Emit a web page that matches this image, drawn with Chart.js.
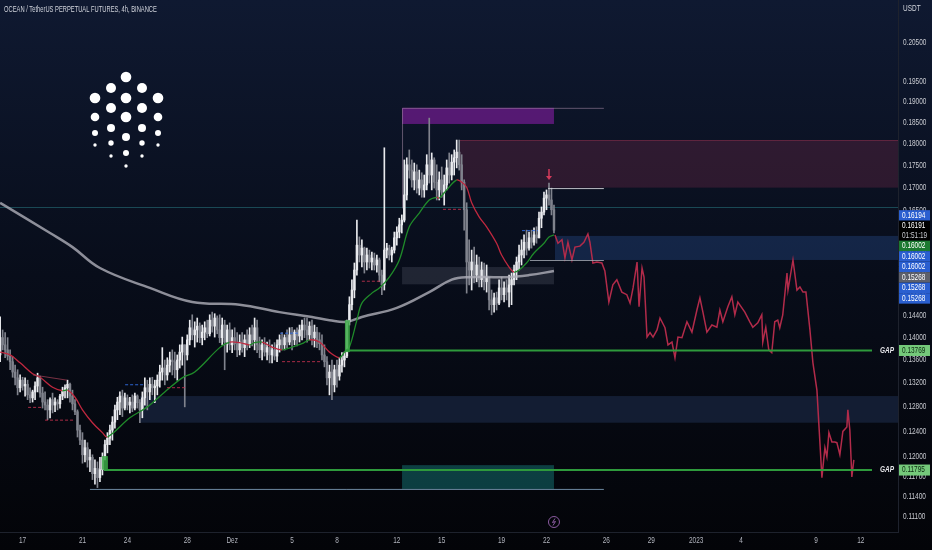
<!DOCTYPE html>
<html>
<head>
<meta charset="utf-8">
<script src="https://cdn.jsdelivr.net/npm/chart.js@4.4.0/dist/chart.umd.min.js"></script>
<style>
  html, body { margin: 0; padding: 0; background: #04060b; }
  #wrap { width: 932px; height: 550px; }
</style>
</head>
<body>
<div id="wrap"><canvas id="chart" width="932" height="550"></canvas></div>
<script>
// OCEAN/USDT perp, 4h candles. x = bar index counted from 17 Nov 00:00
const startBar = -9;
const firstOpen = 0.1369;

const highs = [
  .1438,.1414,.1409,.1400,.1378,.1366,.1351,.1343,.1334,.1330,
  .1329,.1325,.1312,.1308,.1322,.1337,.1332,.1313,.1305,.1292,
  .1295,.1303,.1295,.1292,.1301,.1313,.1317,.1325,.1320,.1308,
  .1292,.1275,.1250,.1238,.1226,.1222,.1211,.1203,.1195,.1192,
  .1199,.1206,.1226,.1238,.1250,.1264,.1283,.1296,.1305,.1308,
  .1303,.1300,.1296,.1300,.1303,.1300,.1292,.1305,.1329,.1325,
  .1329,.1330,.1325,.1334,.1351,.1382,.1360,.1364,.1374,.1378,
  .1374,.1369,.1387,.1401,.1387,.1405,.1432,.1442,.1429,.1436,
  .1427,.1423,.1429,.1432,.1442,.1447,.1444,.1440,.1442,.1436,
  .1432,.1423,.1427,.1414,.1418,.1409,.1405,.1409,.1405,.1414,
  .1418,.1423,.1436,.1432,.1401,.1396,.1400,.1392,.1396,.1387,
  .1391,.1396,.1405,.1409,.1405,.1414,.1418,.1419,.1414,.1418,
  .1423,.1432,.1436,.1436,.1429,.1432,.1423,.1419,.1409,.1405,
  .1387,.1366,.1351,.1360,.1351,.1360,.1364,.1373,.1374,.1432,
  .1476,.1509,.1542,.1630,.1595,.1589,.1574,.1572,.1568,.1564,
  .1562,.1558,.1552,.1528,.1790,.1582,.1578,.1574,.1605,.1616,
  .1634,.1641,.1762,.1767,.1785,.1762,.1755,.1751,.1739,.1733,
  .1728,.1774,.1860,.1778,.1767,.1751,.1735,.1746,.1728,.1762,
  .1778,.1774,.1785,.1808,.1808,.1774,.1717,.1667,.1589,.1568,
  .1574,.1558,.1554,.1544,.1542,.1538,.1499,.1489,.1483,.1485,
  .1509,.1514,.1505,.1509,.1518,.1522,.1538,.1554,.1578,.1589,
  .1599,.1609,.1605,.1609,.1614,.1616,.1647,.1658,.1690,.1695,
  .1710,.1699,.1662
];
const lows = [
  .1357,.1378,.1364,.1360,.1343,.1330,.1317,.1300,.1305,.1308,
  .1298,.1292,.1287,.1288,.1292,.1305,.1296,.1278,.1275,.1259,
  .1262,.1270,.1272,.1275,.1278,.1292,.1295,.1295,.1288,.1275,
  .1267,.1231,.1219,.1190,.1192,.1184,.1177,.1165,.1158,.1153,
  .1162,.1172,.1195,.1206,.1219,.1226,.1245,.1259,.1267,.1264,
  .1275,.1275,.1270,.1272,.1275,.1278,.1254,.1262,.1283,.1275,
  .1292,.1300,.1287,.1300,.1313,.1325,.1317,.1325,.1339,.1334,
  .1329,.1325,.1346,.1351,.1280,.1360,.1387,.1396,.1383,.1392,
  .1391,.1387,.1396,.1400,.1403,.1410,.1401,.1407,.1391,.1387,
  .1343,.1374,.1378,.1373,.1378,.1366,.1369,.1374,.1366,.1378,
  .1382,.1385,.1378,.1373,.1364,.1360,.1367,.1360,.1355,.1355,
  .1360,.1357,.1374,.1378,.1378,.1382,.1387,.1378,.1387,.1385,
  .1392,.1396,.1400,.1392,.1396,.1387,.1383,.1382,.1378,.1360,
  .1348,.1317,.1300,.1292,.1305,.1313,.1325,.1339,.1348,.1364,
  .1423,.1451,.1474,.1518,.1544,.1534,.1522,.1528,.1532,.1528,
  .1528,.1524,.1505,.1480,.1489,.1552,.1548,.1544,.1562,.1578,
  .1593,.1603,.1626,.1673,.1721,.1701,.1695,.1688,.1684,.1679,
  .1679,.1695,.1710,.1695,.1699,.1673,.1673,.1679,.1662,.1695,
  .1710,.1717,.1728,.1744,.1739,.1695,.1609,.1483,.1499,.1489,
  .1503,.1505,.1495,.1495,.1489,.1485,.1451,.1442,.1447,.1451,
  .1461,.1470,.1466,.1470,.1457,.1461,.1499,.1509,.1528,.1538,
  .1552,.1558,.1568,.1572,.1578,.1582,.1599,.1614,.1641,.1652,
  .1662,.1641,.1603
];
const closes = [
  .1400,.1387,.1378,.1367,.1357,.1339,.1329,.1312,.1325,.1315,
  .1318,.1300,.1295,.1305,.1315,.1329,.1303,.1288,.1283,.1275,
  .1292,.1283,.1288,.1285,.1298,.1308,.1312,.1318,.1298,.1285,
  .1272,.1242,.1226,.1203,.1214,.1195,.1199,.1174,.1182,.1168,
  .1180,.1199,.1219,.1229,.1242,.1255,.1275,.1288,.1298,.1278,
  .1295,.1283,.1288,.1278,.1298,.1287,.1275,.1295,.1312,.1305,
  .1318,.1312,.1315,.1325,.1339,.1346,.1334,.1351,.1360,.1357,
  .1343,.1360,.1374,.1387,.1369,.1396,.1418,.1405,.1414,.1421,
  .1400,.1410,.1418,.1407,.1432,.1421,.1436,.1414,.1400,.1423,
  .1392,.1414,.1387,.1400,.1389,.1378,.1392,.1382,.1396,.1387,
  .1405,.1396,.1418,.1387,.1378,.1387,.1374,.1382,.1369,.1378,
  .1367,.1387,.1396,.1387,.1400,.1392,.1405,.1396,.1410,.1403,
  .1414,.1423,.1414,.1405,.1421,.1400,.1410,.1396,.1389,.1369,
  .1357,.1329,.1339,.1317,.1343,.1332,.1351,.1360,.1367,.1429,
  .1461,.1489,.1528,.1578,.1558,.1572,.1544,.1558,.1544,.1552,
  .1538,.1548,.1518,.1499,.1568,.1572,.1558,.1568,.1593,.1605,
  .1620,.1630,.1684,.1751,.1739,.1717,.1735,.1699,.1717,.1695,
  .1706,.1751,.1728,.1762,.1712,.1695,.1717,.1690,.1706,.1744,
  .1728,.1757,.1767,.1780,.1751,.1712,.1652,.1544,.1528,.1544,
  .1518,.1538,.1509,.1528,.1505,.1513,.1470,.1461,.1474,.1464,
  .1493,.1480,.1493,.1485,.1499,.1509,.1528,.1544,.1558,.1568,
  .1584,.1572,.1593,.1584,.1599,.1593,.1634,.1647,.1677,.1684,
  .1673,.1652,.1609
];

// fast MA (green when rising, red when falling)
const maBars = [-9,-5,-1,4,7,12,16,18,21,24,28,32,34,43,50,57,64,69,79,83,87,91,93,96,100,104,108,112,115,119,123,127,129,131,134,136,140,143,147,151,155,159,163,166,167,170,174,176,178,180,183,186,190,192,195,197,199,202,205,209,211,213];
const maPrices = [.1374,.1369,.1355,.1336,.1330,.1313,.1307,.1308,.1296,.1275,.1254,.1238,.1231,.1262,.1280,.1305,.1329,.1339,.1382,.1392,.1391,.1387,.1391,.1392,.1383,.1378,.1383,.1389,.1396,.1392,.1374,.1364,.1374,.1383,.1432,.1464,.1483,.1493,.1514,.1548,.1616,.1645,.1673,.1679,.1677,.1695,.1717,.1712,.1701,.1667,.1637,.1616,.1582,.1558,.1534,.1524,.1528,.1542,.1562,.1582,.1595,.1599];

// slow MA (grey)
const slowBars = [-9,11,20,31,51,68,87,103,116,123,130,136,150,163,172,178,194,203,213];
const slowPrices = [.1667,.1603,.1574,.1532,.1493,.1466,.1461,.1447,.1438,.1432,.1429,.1438,.1455,.1485,.1509,.1514,.1514,.1518,.1526];

// drawn projection path
const projBars = [213.4,214.6,216.2,217.4,218.6,220.2,221.4,223.4,225.0,226.6,227.4,228.6,230.2,232.2,233.4,235.0,
  236.6,238.2,240.2,242.2,243.5,244.7,246.3,247.1,248.3,249.1,250.3,251.5,252.7,254.3,255.5,257.5,258.7,260.3,261.5,
  262.7,264.3,266.3,268.3,270.3,271.5,272.7,274.3,276.3,278.3,279.5,280.7,282.7,284.3,285.5,286.7,289.5,291.5,292.7,
  294.7,296.3,296.7,297.9,299.1,300.3,301.5,302.7,303.5,304.7,306.4,306.8,308.8,310.4,311.6,312.8,314.0,315.6,316.8,
  318.4,320.4,321.6,322.4,323.2,324.4,325.6,326.4,327.6,328.8,330.4,330.8,331.6,332.4,333.2];
const projPrices = [.1599,.1582,.1589,.1552,.1584,.1548,.1574,.1576,.1584,.1601,.1584,.1542,.1544,.1542,.1526,.1466,
  .1499,.1509,.1485,.1480,.1464,.1493,.1544,.1457,.1532,.1514,.1401,.1409,.1401,.1414,.1436,.1418,.1387,.1392,.1364,
  .1401,.1400,.1429,.1410,.1451,.1474,.1447,.1410,.1423,.1419,.1451,.1429,.1457,.1476,.1442,.1466,.1447,.1429,.1419,
  .1427,.1442,.1392,.1419,.1378,.1373,.1429,.1432,.1418,.1442,.1522,.1489,.1548,.1489,.1495,.1485,.1485,.1414,.1355,
  .1308,.1168,.1214,.1200,.1238,.1223,.1223,.1222,.1203,.1240,.1247,.1275,.1242,.1169,.1195];

// zones: [fromBar, toBar (null = right edge)] and [top, bottom] prices
const zoneBars   = [[152.1, 213.0], [175.3, null], [213.4, null], [152.1, 213.0], [47.1, null], [152.1, 213.0]];
const zonePrices = [[.1885, .1846], [.1808, .1700], [.1597, .1548], [.1534, .1500], [.1298, .1254], [.1187, .1151]];

// gap levels and their filled candles
const gapLevels = [0.13769, 0.11795];
const gapFromBar = [129.2, 32.6];
const gapFillBars = [[129.2, 131.2], [31.8, 34.2]];
const gapFillPrices = [[.1432, .1374], [.1201, .1180]];

// pivot markers (dashed)
const pivotBars = [[2.2, 8.2], [9, 21], [41.1, 49.1], [57.9, 65.1], [103.2, 110.4], [104, 120], [136, 143.3], [168.5, 176.5], [200.2, 206.6]];
const pivotPrices = [.1280, .1259, .1318, .1313, .1409, .1358, .1507, .1654, .1609];
const pivotKinds = ['low', 'low', 'high', 'low', 'high', 'low', 'low', 'low', 'high'];

const lastPrice = 0.16194;
const tagPrices = ['0.16194', '0.16191', '0.16002', '0.16002', '0.16002', '0.15268', '0.15268', '0.15268'];
const countdown = '01:51:19';

const dayLabels = ['17', '21', '24', '28', 'Dez', '5', '8', '12', '15', '19', '22', '26', '29', '2023', '4', '9', '12'];
const dayOffsets = [0, 4, 7, 11, 14, 18, 21, 25, 28, 32, 35, 39, 42, 45, 48, 53, 56];
const priceTicks = [0.205, 0.195, 0.19, 0.185, 0.18, 0.175, 0.17, 0.165, 0.16, 0.156, 0.152, 0.148,
  0.144, 0.14, 0.136, 0.132, 0.128, 0.124, 0.12, 0.117, 0.114, 0.111];

const FONT = "8.5px 'Liberation Sans', 'DejaVu Sans', sans-serif";

// candles as two floating bar sets (wick + body)
const wickData = [], bodyData = [], candleColors = [];
let prev = firstOpen;
closes.forEach((c, i) => {
  const x = startBar + i;
  const hi = Math.max(highs[i], prev, c);
  const lo = Math.min(lows[i], prev, c);
  wickData.push({ x: x, y: [lo, hi] });
  bodyData.push({ x: x, y: [prev, c] });
  candleColors.push(c >= prev ? '#e9eaee' : '#80838d');
  prev = c;
});

const toXY = (xs, ys) => xs.map((x, i) => ({ x: x, y: ys[i] }));

// no extra padding from tick labels, plot area must fill the canvas
const noPad = s => { s.paddingTop = 0; s.paddingBottom = 0; s.paddingLeft = 0; s.paddingRight = 0; };

// TradingView uses a narrow face; squeeze the text horizontally
function narrowText(ctx, text, x, y, align, squeeze) {
  ctx.save();
  ctx.translate(x, y);
  ctx.scale(squeeze || 0.76, 1);
  ctx.textAlign = align;
  ctx.fillText(text, 0, 0);
  ctx.restore();
}

const overlayPlugin = {
  id: 'overlay',
  beforeDraw(chart) {
    const { ctx, width, height } = chart;
    const g = ctx.createLinearGradient(0, 0, 0, height);
    g.addColorStop(0, '#0f1931');
    g.addColorStop(0.5, '#080d1a');
    g.addColorStop(1, '#030408');
    ctx.save();
    ctx.fillStyle = g;
    ctx.fillRect(0, 0, width, height);
    ctx.restore();
  },
  beforeDatasetsDraw(chart) {
    const { ctx, chartArea: a, scales: { x, y } } = chart;
    ctx.save();
    ctx.beginPath();
    ctx.rect(a.left, a.top, a.width, a.height);
    ctx.clip();

    // zones
    const fills = ['rgba(96,26,125,0.88)', 'rgba(120,45,75,0.32)', 'rgba(40,75,140,0.38)',
      'rgba(120,125,140,0.22)', 'rgba(45,70,115,0.35)', 'rgba(20,110,110,0.55)'];
    zoneBars.forEach((b, i) => {
      const x0 = x.getPixelForValue(b[0]);
      const x1 = b[1] === null ? a.right : x.getPixelForValue(b[1]);
      const y0 = y.getPixelForValue(zonePrices[i][0]);
      const y1 = y.getPixelForValue(zonePrices[i][1]);
      ctx.fillStyle = fills[i];
      ctx.fillRect(x0, y0, x1 - x0, y1 - y0);
    });
    // thin border on top of the red supply zone
    ctx.strokeStyle = 'rgba(150,50,80,0.5)';
    ctx.lineWidth = 1;
    ctx.beginPath();
    ctx.moveTo(x.getPixelForValue(zoneBars[1][0]), y.getPixelForValue(zonePrices[1][0]) + 0.5);
    ctx.lineTo(a.right, y.getPixelForValue(zonePrices[1][0]) + 0.5);
    ctx.stroke();

    // faint horizontal line across the chart
    ctx.strokeStyle = 'rgba(40,120,130,0.55)';
    ctx.beginPath();
    const yl = Math.round(y.getPixelForValue(0.1658)) + 0.5;
    ctx.moveTo(a.left, yl);
    ctx.lineTo(a.right, yl);
    ctx.stroke();
    ctx.restore();
  },
  afterDatasetsDraw(chart) {
    const { ctx, chartArea: a, scales: { x, y } } = chart;
    const X = v => x.getPixelForValue(v), Y = v => y.getPixelForValue(v);
    ctx.save();

    // purple box outline (top + left side)
    ctx.strokeStyle = 'rgba(170,140,170,0.55)';
    ctx.lineWidth = 1;
    ctx.beginPath();
    ctx.moveTo(X(233.0), Y(.1885) + 0.5);
    ctx.lineTo(X(152.1) + 0.5, Y(.1885) + 0.5);
    ctx.lineTo(X(152.1) + 0.5, Y(.1655));
    ctx.stroke();

    // white / grey level lines
    ctx.strokeStyle = 'rgba(220,220,225,0.85)';
    ctx.beginPath();
    ctx.moveTo(X(210.6), Y(.1699) + 0.5);
    ctx.lineTo(X(233.0), Y(.1699) + 0.5);
    ctx.stroke();
    ctx.strokeStyle = 'rgba(170,175,185,0.8)';
    ctx.beginPath();
    ctx.moveTo(X(203.4), Y(.1548) + 0.5);
    ctx.lineTo(X(233.0), Y(.1548) + 0.5);
    ctx.stroke();
    ctx.strokeStyle = 'rgba(120,150,175,0.9)';
    ctx.beginPath();
    ctx.moveTo(X(27.0), Y(.1151) + 0.5);
    ctx.lineTo(X(233.0), Y(.1151) + 0.5);
    ctx.stroke();

    // thin old trendline
    ctx.strokeStyle = 'rgba(150,60,80,0.8)';
    ctx.beginPath();
    ctx.moveTo(X(4.2), Y(.1334));
    ctx.lineTo(X(17.8), Y(.1325));
    ctx.stroke();

    // pivot dashes
    ctx.setLineDash([3, 2]);
    pivotBars.forEach((b, i) => {
      ctx.strokeStyle = pivotKinds[i] === 'low' ? 'rgba(200,50,80,0.85)' : 'rgba(50,110,230,0.9)';
      ctx.beginPath();
      ctx.moveTo(X(b[0]), Y(pivotPrices[i]) + 0.5);
      ctx.lineTo(X(b[1]), Y(pivotPrices[i]) + 0.5);
      ctx.stroke();
    });
    ctx.setLineDash([]);

    // gap fills + gap lines
    gapFillBars.forEach((b, i) => {
      ctx.fillStyle = 'rgba(60,170,70,0.85)';
      const y0 = Y(gapFillPrices[i][0]), y1 = Y(gapFillPrices[i][1]);
      ctx.fillRect(X(b[0]), y0, X(b[1]) - X(b[0]), y1 - y0);
    });
    gapLevels.forEach((lv, i) => {
      const yy = Y(lv);
      ctx.strokeStyle = '#2e9a3c';
      ctx.lineWidth = 2;
      ctx.beginPath();
      ctx.moveTo(X(gapFromBar[i]), yy);
      ctx.lineTo(a.right - 26, yy);
      ctx.stroke();
      ctx.fillStyle = '#e8e8ec';
      ctx.font = "italic bold 8.5px 'Liberation Sans', sans-serif";
      ctx.textBaseline = 'middle';
      narrowText(ctx, 'GAP', a.right - 4, yy, 'right');
    });

    // red arrow above the last high
    const ax = X(211), ay = Y(highs[211 - startBar]);
    ctx.strokeStyle = '#d23a5a';
    ctx.fillStyle = '#d23a5a';
    ctx.lineWidth = 1.5;
    ctx.beginPath();
    ctx.moveTo(ax, ay - 14);
    ctx.lineTo(ax, ay - 6);
    ctx.stroke();
    ctx.beginPath();
    ctx.moveTo(ax - 3, ay - 7);
    ctx.lineTo(ax + 3, ay - 7);
    ctx.lineTo(ax, ay - 3);
    ctx.closePath();
    ctx.fill();
    ctx.restore();
  },
  afterDraw(chart) {
    const { ctx, chartArea: a, scales: { x, y } } = chart;
    ctx.save();
    ctx.font = FONT;
    ctx.textBaseline = 'middle';

    // title + unit
    ctx.fillStyle = '#d1d4dc';
    narrowText(ctx, 'OCEAN / TetherUS PERPETUAL FUTURES, 4h, BINANCE', 4, 10, 'left', 0.68);
    narrowText(ctx, 'USDT', a.right + 5, 9, 'left');

    // axis tick labels (taken from the scales' own ticks)
    ctx.fillStyle = '#c8cad0';
    y.ticks.forEach(t => narrowText(ctx, t.value.toFixed(5), a.right + 5, y.getPixelForValue(t.value), 'left'));
    ctx.fillStyle = '#b2b5be';
    x.ticks.forEach((t, i) => narrowText(ctx, dayLabels[i], x.getPixelForValue(t.value), a.bottom + 9, 'center'));

    // ocean logo
    const dots = [[126,77,5.3],[111,88,5],[142,88,5],[95,98,5.3],[126,98,5.3],[158,98,5.3],[111,108,5],[142,108,5],
      [95,117,4.3],[126,117,5.3],[158,117,4.3],[111,128,4],[142,128,4],[95,133,3],[126,137,4],[158,133,3],
      [111,143,2.7],[142,143,2.7],[95,145,1.7],[126,153,3],[158,145,1.7],[111,156,1.7],[142,156,1.7],[126,166,1.7]];
    ctx.fillStyle = '#ffffff';
    dots.forEach(d => {
      ctx.beginPath();
      ctx.arc(d[0], d[1], d[2], 0, Math.PI * 2);
      ctx.fill();
    });

    // price tags on the axis
    const tagColors = ['#2a5fd0', '#000000', '#1c7a30', '#2a5fd0', '#2a5fd0', '#5d606b', '#2a5fd0', '#2a5fd0'];
    let ty = y.getPixelForValue(lastPrice) - 15;
    tagPrices.forEach((t, i) => {
      const h = i === 1 ? 20 : 10.5;
      ctx.fillStyle = tagColors[i];
      ctx.fillRect(a.right + 1, ty, 31, h);
      ctx.fillStyle = '#ffffff';
      if (i === 1) {
        narrowText(ctx, t, a.right + 4, ty + 5, 'left');
        ctx.fillStyle = '#c8cad0';
        narrowText(ctx, countdown, a.right + 4, ty + 15, 'left');
      } else {
        narrowText(ctx, t, a.right + 4, ty + h / 2, 'left');
      }
      ty += h;
    });
    gapLevels.forEach(lv => {
      const yy = y.getPixelForValue(lv);
      ctx.fillStyle = '#74c97a';
      ctx.fillRect(a.right + 1, yy - 5.5, 31, 11);
      ctx.fillStyle = '#0d2a12';
      narrowText(ctx, lv.toFixed(5), a.right + 4, yy, 'left');
    });

    // replay icon at the bottom
    const cx = x.getPixelForValue(213), cy = a.bottom - 10;
    ctx.strokeStyle = '#8a5aa0';
    ctx.lineWidth = 1;
    ctx.beginPath();
    ctx.arc(cx, cy, 5.5, 0, Math.PI * 2);
    ctx.stroke();
    ctx.beginPath();
    ctx.moveTo(cx + 1, cy - 3.5);
    ctx.lineTo(cx - 1.5, cy + 0.5);
    ctx.lineTo(cx + 1.5, cy - 0.5);
    ctx.lineTo(cx - 1, cy + 3.5);
    ctx.stroke();
    ctx.restore();
  }
};

new Chart(document.getElementById('chart'), {
  type: 'bar',
  data: {
    datasets: [
      {
        type: 'line', data: toXY(projBars, projPrices), borderColor: '#b22b4a', borderWidth: 1.5,
        pointRadius: 0, tension: 0, order: 0
      },
      {
        type: 'line', data: toXY(maBars, maPrices), borderWidth: 1.3, pointRadius: 0, tension: 0.35, order: 0,
        borderColor: '#c0283f',
        segment: { borderColor: c => c.p1.parsed.y >= c.p0.parsed.y ? '#1f8a2a' : '#c0283f' }
      },
      {
        type: 'line', data: toXY(slowBars, slowPrices), borderColor: 'rgba(175,175,185,0.8)', borderWidth: 2.5,
        pointRadius: 0, tension: 0.4, order: 0
      },
      {
        data: bodyData, backgroundColor: candleColors, barThickness: 1.8, minBarLength: 1,
        grouped: false, order: 1
      },
      {
        data: wickData, backgroundColor: candleColors, barThickness: 1,
        grouped: false, order: 2
      }
    ]
  },
  options: {
    responsive: false,
    animation: false,
    layout: { padding: 0 },
    plugins: { legend: { display: false }, tooltip: { enabled: false } },
    scales: {
      x: {
        type: 'linear', min: -9.06, max: 350.9, offset: false,
        grid: { display: false, drawTicks: false },
        border: { display: true, color: '#1e222d' },
        afterBuildTicks: s => { s.ticks = dayOffsets.map(d => ({ value: d * 6 })); },
        afterFit: s => { s.height = 18; noPad(s); },
        ticks: { display: false, autoSkip: false, maxRotation: 0 }
      },
      y: {
        type: 'logarithmic', position: 'right', min: 0.10886, max: 0.21673,
        grid: { display: false, drawTicks: false },
        border: { display: true, color: '#1e222d' },
        afterBuildTicks: s => { s.ticks = priceTicks.map(v => ({ value: v })); },
        afterFit: s => { s.width = 34; noPad(s); },
        ticks: { display: false }
      }
    }
  },
  plugins: [overlayPlugin]
});
</script>
</body>
</html>
